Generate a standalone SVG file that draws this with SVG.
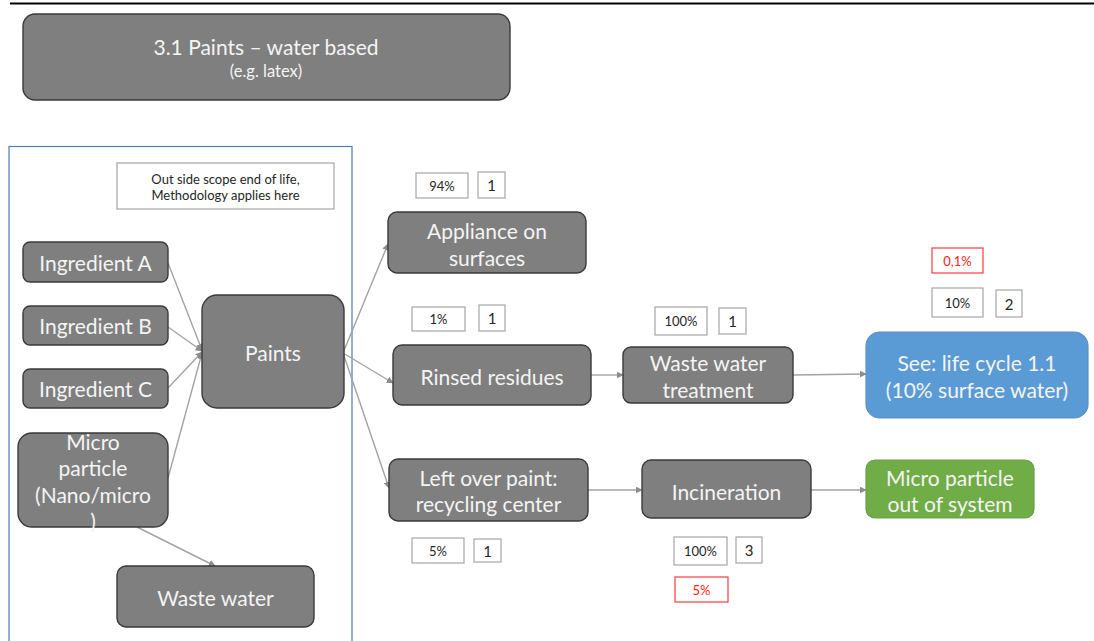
<svg xmlns="http://www.w3.org/2000/svg" width="1094" height="641" viewBox="0 0 1094 641">
  <defs>
    <style>
      .node { fill: #7f7f7f; stroke: #3a3a3a; stroke-width: 1.4; }
      .blue { fill: #5b9bd5; stroke: #5a8fc4; stroke-width: 1.2; }
      .green { fill: #70ad47; stroke: #6a9f45; stroke-width: 1.2; }
      .lbl { font-family: Lato, "Liberation Sans", sans-serif; font-size: 21px; fill: #f4f4f4; text-anchor: middle; dominant-baseline: central; }
      .small { font-family: Lato, "Liberation Sans", sans-serif; font-size: 16.5px; fill: #f4f4f4; text-anchor: middle; dominant-baseline: central; }
      .note { fill: #ffffff; stroke: #a6a6a6; stroke-width: 1.2; }
      .red { fill: #ffffff; stroke: #ff3b3b; stroke-width: 1.2; }
      .nt { font-family: Lato, "Liberation Sans", sans-serif; font-size: 13px; fill: #262626; text-anchor: middle; dominant-baseline: central; }
      .num { font-family: Lato, "Liberation Sans", sans-serif; font-size: 15px; fill: #262626; text-anchor: middle; dominant-baseline: central; }
      .rt { font-family: Lato, "Liberation Sans", sans-serif; font-size: 13px; fill: #ff2020; text-anchor: middle; dominant-baseline: central; }
      .edge { fill: none; stroke: #a3a3a3; stroke-width: 1.4; marker-end: url(#arrow); }
    </style>
    <marker id="arrow" viewBox="0 0 10 10" refX="9" refY="5" markerWidth="7" markerHeight="7" markerUnits="userSpaceOnUse" orient="auto">
      <path d="M0,0 L10,5 L0,10 z" fill="#8c8c8c"/>
    </marker>
  </defs>

  <rect width="1094" height="641" fill="#ffffff"/>

  <!-- header rule -->
  <line x1="10" y1="3.5" x2="1094" y2="3.5" stroke="#000000" stroke-width="2"/>

  <!-- title -->
  <g id="title">
    <rect class="node" x="23" y="14" width="487" height="86" rx="12"/>
    <text class="lbl" x="266" y="46">3.1 Paints – water based</text>
    <text class="small" x="266" y="71">(e.g. latex)</text>
  </g>

  <!-- scope frame -->
  <g id="scope">
    <rect x="9" y="146.5" width="343" height="510" fill="none" stroke="#4a7fb5" stroke-width="1.2"/>
    <rect class="note" x="117" y="163" width="217" height="46"/>
    <text class="nt" x="225.5" y="178.5" font-size="13.5px">Out side scope end of life,</text>
    <text class="nt" x="225.5" y="195" font-size="13.5px">Methodology applies here</text>
  </g>

  <!-- connectors -->
  <g id="connectors">
    <line class="edge" x1="168" y1="263" x2="202" y2="350"/>
    <line class="edge" x1="168" y1="327" x2="202" y2="351"/>
    <line class="edge" x1="168" y1="388" x2="202" y2="352"/>
    <line class="edge" x1="168" y1="478" x2="202" y2="353"/>
    <line class="edge" x1="137" y1="527" x2="215" y2="566"/>
    <line class="edge" x1="343" y1="353" x2="388" y2="244"/>
    <line class="edge" x1="343" y1="353" x2="393" y2="383"/>
    <line class="edge" x1="343" y1="353" x2="389" y2="488"/>
    <line class="edge" x1="591" y1="375" x2="623" y2="375"/>
    <line class="edge" x1="793" y1="375" x2="866" y2="374"/>
    <line class="edge" x1="588" y1="490" x2="642" y2="490"/>
    <line class="edge" x1="811" y1="490" x2="866" y2="490"/>
  </g>

  <g id="ingredient-a">
    <rect class="node" x="23" y="242" width="145" height="40" rx="7"/>
    <text class="lbl" x="95.5" y="262">Ingredient A</text>
  </g>
  <g id="ingredient-b">
    <rect class="node" x="23" y="306" width="145" height="39" rx="7"/>
    <text class="lbl" x="95.5" y="325.5">Ingredient B</text>
  </g>
  <g id="ingredient-c">
    <rect class="node" x="23" y="369" width="145" height="39" rx="7"/>
    <text class="lbl" x="95.5" y="388.5">Ingredient C</text>
  </g>
  <g id="micro-particle">
    <rect class="node" x="18" y="433" width="150" height="94" rx="14"/>
    <text class="lbl" x="93" y="441">Micro</text>
    <text class="lbl" x="93" y="467">particle</text>
    <text class="lbl" x="93" y="494">(Nano/micro</text>
    <text class="lbl" x="93" y="520">)</text>
  </g>
  <g id="paints">
    <rect class="node" x="202" y="295" width="142" height="113" rx="15"/>
    <text class="lbl" x="273" y="352">Paints</text>
  </g>
  <g id="waste-water">
    <rect class="node" x="117" y="566" width="197" height="61" rx="9"/>
    <text class="lbl" x="215.5" y="597">Waste water</text>
  </g>

  <g id="appliance">
    <rect class="note" x="416" y="173" width="52" height="25"/>
    <text class="nt" x="442" y="185.5">94%</text>
    <rect class="note" x="478" y="172" width="27" height="26"/>
    <text class="num" x="491.5" y="185">1</text>
    <rect class="node" x="388" y="212" width="198" height="61" rx="9"/>
    <text class="lbl" x="487" y="230">Appliance on</text>
    <text class="lbl" x="487" y="257">surfaces</text>
  </g>

  <g id="rinsed">
    <rect class="note" x="412" y="307" width="53" height="24"/>
    <text class="nt" x="438.5" y="319">1%</text>
    <rect class="note" x="479" y="305" width="26" height="26"/>
    <text class="num" x="492" y="318">1</text>
    <rect class="node" x="393" y="345" width="198" height="60" rx="9"/>
    <text class="lbl" x="492" y="376">Rinsed residues</text>
  </g>

  <g id="wwt">
    <rect class="note" x="655" y="307" width="52" height="28"/>
    <text class="nt" x="681" y="321">100%</text>
    <rect class="note" x="719" y="308" width="27" height="26"/>
    <text class="num" x="732.5" y="321">1</text>
    <rect class="node" x="623" y="347" width="170" height="56" rx="8"/>
    <text class="lbl" x="708" y="362">Waste water</text>
    <text class="lbl" x="708" y="389">treatment</text>
  </g>

  <g id="life-cycle">
    <rect class="red" x="932" y="248" width="51" height="25"/>
    <text class="rt" x="957.5" y="260.5">0,1%</text>
    <rect class="note" x="932" y="288" width="51" height="29"/>
    <text class="nt" x="957.5" y="302.5">10%</text>
    <rect class="note" x="996" y="290" width="26" height="27"/>
    <text class="num" x="1009" y="303.5">2</text>
    <rect class="blue" x="866" y="332" width="222" height="86" rx="14"/>
    <text class="lbl" x="977" y="362">See: life cycle 1.1</text>
    <text class="lbl" x="977" y="389">(10% surface water)</text>
  </g>

  <g id="leftover">
    <rect class="node" x="389" y="459" width="199" height="62" rx="9"/>
    <text class="lbl" x="488.5" y="477">Left over paint:</text>
    <text class="lbl" x="488.5" y="503">recycling center</text>
    <rect class="note" x="412" y="538" width="52" height="25"/>
    <text class="nt" x="438" y="550.5">5%</text>
    <rect class="note" x="474" y="539" width="27" height="23"/>
    <text class="num" x="487.5" y="550.5">1</text>
  </g>

  <g id="incineration">
    <rect class="node" x="642" y="460" width="169" height="58" rx="9"/>
    <text class="lbl" x="726.5" y="491">Incineration</text>
    <rect class="note" x="674" y="537" width="53" height="28"/>
    <text class="nt" x="700.5" y="551">100%</text>
    <rect class="note" x="736" y="537" width="26" height="26"/>
    <text class="num" x="749" y="550">3</text>
    <rect class="red" x="675" y="577" width="53" height="25"/>
    <text class="rt" x="701.5" y="589.5">5%</text>
  </g>

  <g id="out-of-system">
    <rect class="green" x="866" y="460" width="168" height="58" rx="9"/>
    <text class="lbl" x="950" y="477">Micro particle</text>
    <text class="lbl" x="950" y="503">out of system</text>
  </g>
</svg>
